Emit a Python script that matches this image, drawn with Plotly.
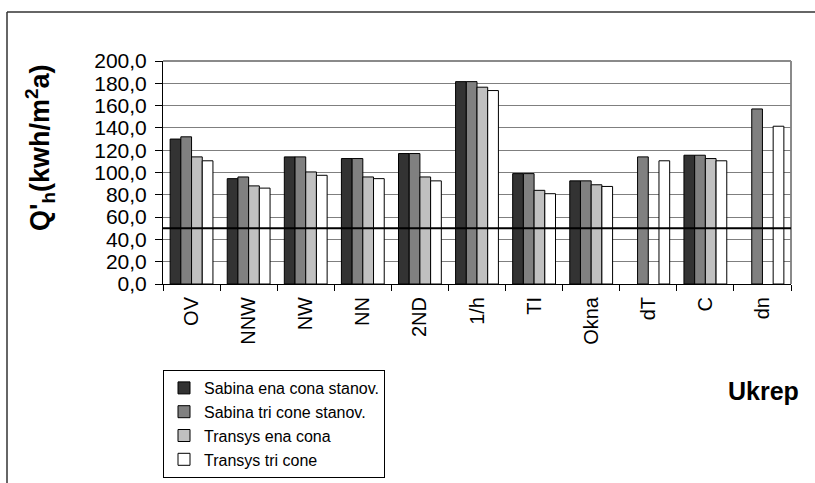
import plotly.graph_objects as go

# Measures (x categories) and heating demand per model variant
categories = ["OV", "NNW", "NW", "NN", "2ND", "1/h", "TI", "Okna", "dT", "C", "dn"]
sabina_ena = [130.0, 94.5, 114.0, 112.5, 117.0, 181.5, 99.0, 92.5, None, 115.5, None]
sabina_tri = [132.0, 96.0, 114.0, 112.5, 117.0, 181.5, 99.0, 92.5, 114.0, 115.5, 157.0]
transys_ena = [114.0, 88.0, 100.5, 96.0, 96.0, 176.5, 84.0, 89.0, None, 112.5, None]
transys_tri = [110.5, 86.0, 97.5, 94.5, 92.5, 173.5, 81.0, 87.5, 110.5, 110.5, 141.5]
series_names = ["Sabina ena cona stanov.", "Sabina tri cone stanov.",
                "Transys ena cona", "Transys tri cone"]
reference_level = 50.0
y_ticks = [0, 20, 40, 60, 80, 100, 120, 140, 160, 180, 200]

W, H = 815, 483
L, R, T, B = 163, 24, 61, 199
pw, ph = W - L - R, H - T - B


def px_x(x):
    return (x - L) / pw


def px_y(y):
    return (H - B - y) / ph


fills = ["#333333", "#808080", "#c0c0c0", "#ffffff"]
fig = go.Figure()
for name, vals, col in zip(series_names,
                           [sabina_ena, sabina_tri, transys_ena, transys_tri],
                           fills):
    fig.add_trace(go.Bar(
        x=categories, y=vals, name=name,
        marker=dict(color=col, line=dict(color="#000000", width=1)),
    ))

# horizontal reference line
fig.add_trace(go.Scatter(
    x=[-0.5, len(categories) - 0.5], y=[reference_level, reference_level],
    mode="lines", line=dict(color="#000000", width=2),
    showlegend=False, hoverinfo="skip", xaxis="x2",
))

font = "Liberation Sans, Arial, sans-serif"
fig.update_layout(
    width=W, height=H,
    margin=dict(l=L, r=R, t=T, b=B, pad=0, autoexpand=False),
    paper_bgcolor="#ffffff", plot_bgcolor="#ffffff",
    barmode="group", bargap=0.25, bargroupgap=0,
    separators=", ",
    font=dict(family=font, size=20, color="#000000"),
    xaxis=dict(
        type="category", tickangle=-90, tickson="boundaries",
        ticks="outside", ticklen=6, tickcolor="#000000",
        showline=True, linecolor="#000000", linewidth=1,
        showgrid=False, tickfont=dict(size=20), automargin=False,
        ticklabelstandoff=4,
        range=[-0.5, len(categories) - 0.5],
    ),
    xaxis2=dict(overlaying="x", range=[-0.5, len(categories) - 0.5],
                visible=False),
    yaxis=dict(
        range=[0, 200], tickvals=y_ticks, tickformat=".1f",
        ticks="outside", ticklen=7, tickcolor="#000000",
        showline=True, linecolor="#000000", linewidth=1,
        showgrid=True, gridcolor="#7f7f7f", gridwidth=1,
        zeroline=False, tickfont=dict(size=21), ticklabelstandoff=4,
        automargin=False,
    ),
    legend=dict(
        x=px_x(163), y=px_y(370), xanchor="left", yanchor="top",
        bordercolor="#000000", borderwidth=1, bgcolor="#ffffff",
        font=dict(size=16, family=font), traceorder="normal",
        tracegroupgap=0,
    ),
    showlegend=True,
)

fig.add_annotation(
    text="Q'<sub>h</sub>(kwh/m<sup>2</sup>a)", textangle=-90,
    x=px_x(40), y=px_y(147), xref="paper", yref="paper",
    xanchor="center", yanchor="middle", showarrow=False,
    font=dict(size=27, family=font, weight="bold"),
)
fig.add_annotation(
    text="<b>Ukrep</b>", x=px_x(763), y=px_y(391), xref="paper", yref="paper",
    xanchor="center", yanchor="middle", showarrow=False,
    font=dict(size=25, family=font),
)

# plot area border (top and right in grey)
fig.add_shape(type="line", xref="paper", yref="paper", x0=0, x1=1, y0=1, y1=1,
              line=dict(color="#8a8a8a", width=2), layer="below")
fig.add_shape(type="line", xref="paper", yref="paper", x0=1, x1=1, y0=0, y1=1,
              line=dict(color="#8a8a8a", width=2), layer="below")

# outer chart frame
fx, fy = px_x(7), px_y(12)
fig.add_shape(type="line", xref="paper", yref="paper", x0=fx, x1=fx,
              y0=fy, y1=px_y(500), line=dict(color="#333333", width=1.5))
fig.add_shape(type="line", xref="paper", yref="paper", x0=fx, x1=px_x(830),
              y0=fy, y1=fy, line=dict(color="#333333", width=1.5))

fig.write_html("out.html")
